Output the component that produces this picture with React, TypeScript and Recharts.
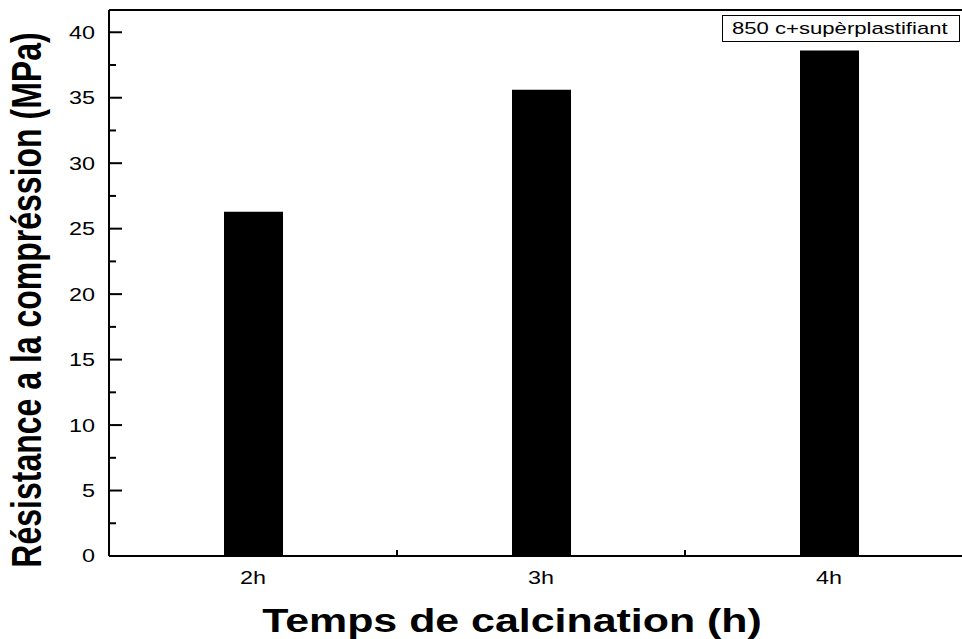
import { BarChart, Bar, XAxis, YAxis, ReferenceLine } from 'recharts';

const categories = ['2h', '3h', '4h'];
const strength = [26.3, 35.6, 38.6];
const yTicks = [0, 2.5, 5, 7.5, 10, 12.5, 15, 17.5, 20, 22.5, 25, 27.5, 30, 32.5, 35, 37.5, 40];
const yMax = 41.7;
const seriesName = '850 c+supèrplastifiant';
const xTitle = 'Temps de calcination (h)';
const yTitle = 'Résistance a la compréssion (MPa)';

const font = '"Liberation Sans", Arial, sans-serif';
// the original export is stretched sideways, so text is widened a bit
const stretch = 1.3;

const data = categories.map((c, i) => ({ name: c, value: strength[i] }));

const YTick = (props: any) => {
  const { x, y, payload } = props;
  const major = payload.value % 5 === 0;
  return (
    <g>
      <line x1={x} y1={y} x2={x + (major ? 13 : 7)} y2={y} stroke="#000" strokeWidth={2} />
      {major && (
        <text
          transform={`translate(${x - 14},${y}) scale(${stretch},1)`}
          textAnchor="end"
          dominantBaseline="central"
          fontSize={18}
          fontFamily={font}
          fill="#000"
        >
          {payload.value}
        </text>
      )}
    </g>
  );
};

const XTick = (props: any) => {
  const { x, y, payload } = props;
  const half = payload.offset || 144;
  return (
    <g>
      <line x1={x + half} y1={y} x2={x + half} y2={y - 6} stroke="#000" strokeWidth={2} />
      <text
        transform={`translate(${x},${y + 22}) scale(${stretch},1)`}
        textAnchor="middle"
        dominantBaseline="central"
        fontSize={18}
        fontFamily={font}
        fill="#000"
      >
        {payload.value}
      </text>
    </g>
  );
};

export default function App() {
  return (
    <div style={{ position: 'absolute', left: 0, top: 0, width: 962, height: 639, overflow: 'hidden', background: '#fff' }}>
      <BarChart
        width={980}
        height={639}
        data={data}
        margin={{ top: 10, right: 7, left: 49, bottom: 53 }}
      >
        <XAxis
          dataKey="name"
          height={30}
          axisLine={{ stroke: '#000', strokeWidth: 2 }}
          tickLine={false}
          tickSize={0}
          tickMargin={0}
          tick={<XTick />}
          interval={0}
          label={{
            content: () => (
              <text
                transform={`translate(512,620) scale(${stretch},1)`}
                textAnchor="middle"
                dominantBaseline="central"
                fontSize={33}
                fontWeight="bold"
                fontFamily={font}
                fill="#000"
              >
                {xTitle}
              </text>
            ),
          }}
        />
        <YAxis
          width={60}
          domain={[0, yMax]}
          ticks={yTicks}
          interval={0}
          allowDataOverflow
          axisLine={{ stroke: '#000', strokeWidth: 2 }}
          tickLine={false}
          tickSize={0}
          tickMargin={0}
          tick={<YTick />}
          label={{
            content: () => (
              <text
                transform={`translate(26,300) scale(${stretch},1) rotate(-90)`}
                textAnchor="middle"
                dominantBaseline="central"
                fontSize={32}
                fontWeight="bold"
                fontFamily={font}
                fill="#000"
              >
                {yTitle}
              </text>
            ),
          }}
        />
        <ReferenceLine y={yMax} stroke="#000" strokeWidth={2} ifOverflow="visible" />
        <Bar dataKey="value" name={seriesName} fill="#000" barSize={59} isAnimationActive={false} />
      </BarChart>
      <div
        style={{
          position: 'absolute',
          left: 722,
          top: 15,
          width: 236,
          height: 25,
          border: '1px solid #000',
          background: '#fff',
          overflow: 'hidden',
        }}
      >
        <div
          style={{
            position: 'absolute',
            left: 9,
            top: 0,
            lineHeight: '25px',
            fontSize: 17,
            fontFamily: font,
            color: '#000',
            whiteSpace: 'nowrap',
            transform: `scaleX(${stretch})`,
            transformOrigin: 'left center',
          }}
        >
          {seriesName}
        </div>
      </div>
    </div>
  );
}
